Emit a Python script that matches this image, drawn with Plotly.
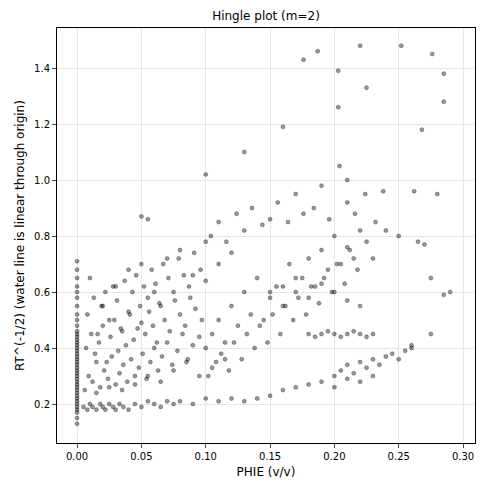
import plotly.graph_objects as go

# PHIE values (v/v)
phie = [
    0, 0, 0, 0, 0, 0, 0, 0, 0, 0, 0, 0, 0, 0, 0, 0, 0, 0, 0, 0, 0, 0, 0, 0, 0, 0, 0, 0, 0, 0,
    0, 0, 0, 0, 0, 0, 0, 0, 0, 0, 0, 0,
    0.005, 0.008, 0.01, 0.012, 0.015, 0.018, 0.02, 0.022, 0.025, 0.028, 0.03, 0.033, 0.036, 0.04,
    0.045, 0.05, 0.055, 0.06, 0.065, 0.07, 0.075, 0.08, 0.09, 0.1, 0.11, 0.12, 0.13,
    0.006, 0.009, 0.012, 0.015, 0.018, 0.021, 0.024, 0.027, 0.03, 0.033, 0.036, 0.039, 0.042, 0.045,
    0.048, 0.051, 0.054, 0.057, 0.06, 0.063, 0.066, 0.07, 0.074, 0.078, 0.082, 0.086, 0.09, 0.095,
    0.007, 0.011, 0.014, 0.017, 0.02, 0.023, 0.026, 0.029, 0.032, 0.035, 0.038, 0.041, 0.044, 0.047,
    0.05, 0.053, 0.056, 0.059, 0.062, 0.065, 0.068, 0.072, 0.076, 0.08, 0.084, 0.088, 0.092, 0.097,
    0.008, 0.013, 0.016, 0.019, 0.022, 0.025, 0.028, 0.031, 0.034, 0.037, 0.04, 0.043, 0.046, 0.049,
    0.052, 0.055, 0.058, 0.061, 0.064, 0.067, 0.071, 0.075, 0.079, 0.083, 0.087, 0.091, 0.096, 0.1,
    0.01, 0.02, 0.03, 0.04, 0.05, 0.06, 0.07, 0.08, 0.09, 0.1, 0.11, 0.12,
    0.015, 0.025, 0.035, 0.045, 0.055, 0.065, 0.075, 0.085, 0.095, 0.105, 0.115,
    0.1, 0.105, 0.11, 0.115, 0.12, 0.125, 0.13, 0.135, 0.14, 0.145, 0.15, 0.155, 0.16, 0.165, 0.17,
    0.175, 0.18, 0.185, 0.19, 0.195, 0.2, 0.205, 0.21, 0.215, 0.22,
    0.102, 0.108, 0.112, 0.118, 0.122, 0.128, 0.132, 0.138, 0.142, 0.148, 0.152, 0.158, 0.162, 0.168,
    0.172, 0.178, 0.182, 0.188, 0.192, 0.198, 0.202, 0.208, 0.212, 0.218, 0.225, 0.23,
    0.104, 0.11, 0.116, 0.124, 0.13, 0.136, 0.144, 0.15, 0.156, 0.164, 0.17, 0.176, 0.184, 0.19,
    0.196, 0.204, 0.21, 0.216, 0.224, 0.232, 0.24,
    0.18, 0.185, 0.19, 0.195, 0.2, 0.205, 0.21, 0.215, 0.22, 0.225, 0.23,
    0.2, 0.205, 0.21, 0.215, 0.22, 0.225, 0.23, 0.235, 0.24, 0.245, 0.25, 0.255, 0.26,
    0.14, 0.15, 0.16, 0.17, 0.18, 0.19, 0.2, 0.21, 0.22, 0.23,
    0.15, 0.16, 0.17, 0.18, 0.19, 0.2, 0.21, 0.22,
    0.176, 0.187, 0.22, 0.252, 0.276, 0.285, 0.285, 0.203, 0.203, 0.225, 0.268, 0.16, 0.13, 0.1,
    0.21, 0.238, 0.262, 0.28, 0.29, 0.285, 0.275, 0.275, 0.26, 0.25, 0.27, 0.265, 0.05, 0.055,
]

# RT^(-1/2) values
rt = [
    0.13, 0.15, 0.17, 0.19, 0.2, 0.22, 0.24, 0.25, 0.27, 0.28, 0.3, 0.31, 0.33, 0.35, 0.36, 0.38,
    0.4, 0.42, 0.44, 0.46, 0.48, 0.5, 0.52, 0.55, 0.58, 0.6, 0.62, 0.65, 0.68, 0.71,
    0.18, 0.21, 0.23, 0.26, 0.29, 0.32, 0.34, 0.37, 0.39, 0.41, 0.43, 0.45,
    0.19, 0.18, 0.2, 0.19, 0.18, 0.2, 0.19, 0.18, 0.2, 0.19, 0.18, 0.2, 0.19, 0.18,
    0.2, 0.19, 0.21, 0.2, 0.19, 0.21, 0.2, 0.21, 0.2, 0.22, 0.21, 0.22, 0.21,
    0.25, 0.3, 0.28, 0.35, 0.26, 0.32, 0.29, 0.37, 0.27, 0.31, 0.34, 0.28, 0.36, 0.3,
    0.33, 0.38, 0.29, 0.35, 0.4, 0.32, 0.37, 0.42, 0.34, 0.39, 0.45, 0.36, 0.41, 0.44,
    0.4, 0.45, 0.38, 0.42, 0.48, 0.35, 0.44, 0.5, 0.39, 0.46, 0.41, 0.52, 0.43, 0.47,
    0.49, 0.45, 0.53, 0.48, 0.42, 0.55, 0.5, 0.46, 0.57, 0.52, 0.48, 0.58, 0.54, 0.5,
    0.52, 0.58, 0.45, 0.55, 0.6, 0.5, 0.62, 0.57, 0.47, 0.64, 0.53, 0.6, 0.66, 0.55,
    0.62, 0.58, 0.68, 0.63, 0.56, 0.7, 0.65, 0.6, 0.72, 0.66, 0.62, 0.74, 0.68, 0.64,
    0.65, 0.55, 0.62, 0.68, 0.7, 0.6, 0.72, 0.75, 0.66, 0.78, 0.7, 0.74,
    0.24, 0.26, 0.25, 0.27, 0.3, 0.28, 0.32, 0.35, 0.3, 0.33, 0.36,
    0.4, 0.45, 0.5, 0.42, 0.55, 0.48, 0.6, 0.52, 0.65, 0.5, 0.58, 0.62, 0.55, 0.7, 0.6,
    0.65, 0.72, 0.62, 0.75, 0.68, 0.8, 0.7, 0.76, 0.72, 0.82,
    0.3, 0.35, 0.38, 0.32, 0.42, 0.36, 0.45, 0.4, 0.48, 0.42, 0.52, 0.45, 0.55, 0.5,
    0.58, 0.52, 0.62, 0.56, 0.65, 0.6, 0.7, 0.63, 0.75, 0.68, 0.78, 0.72,
    0.8, 0.85, 0.78, 0.88, 0.82, 0.9, 0.84, 0.86, 0.92, 0.85, 0.95, 0.88, 0.9, 0.98,
    0.86, 1.05, 0.92, 0.88, 0.95, 0.85, 0.82,
    0.45, 0.44, 0.45, 0.46, 0.45, 0.44, 0.45, 0.46, 0.45, 0.44, 0.45,
    0.3, 0.32, 0.34, 0.31, 0.35, 0.33, 0.36, 0.34, 0.37, 0.38, 0.36, 0.39, 0.4,
    0.22, 0.23, 0.25, 0.26, 0.27, 0.28, 0.26, 0.29, 0.28, 0.3,
    0.6, 0.62, 0.65, 0.58, 0.63, 0.6, 0.57, 0.55,
    1.43, 1.46, 1.48, 1.48, 1.45, 1.38, 1.28, 1.39, 1.26, 1.33, 1.18, 1.19, 1.1, 1.02,
    1.0, 0.96, 0.96, 0.95, 0.6, 0.59, 0.65, 0.45, 0.41, 0.8, 0.77, 0.78, 0.87, 0.86,
]

fig = go.Figure(go.Scatter(
    x=phie, y=rt, mode="markers",
    marker=dict(size=4, color="rgba(0,0,0,0.4)", line=dict(width=0.5, color="rgba(0,0,0,0.6)")),
))

# page body adds an 8px offset, so margins are shifted to compensate
axis = dict(showgrid=True, gridcolor="#e6e6e6", showline=True, mirror=True, linecolor="black",
            ticks="outside", ticklen=4, zeroline=False, tickfont=dict(size=10), automargin=False)
fig.update_layout(
    width=488, height=492, plot_bgcolor="white", paper_bgcolor="white",
    font=dict(family="DejaVu Sans", color="black", size=10),
    title=dict(text="Hingle plot (m=2)", x=(49 + 467) / 2 / 488, xanchor="center",
               y=1 - 4 / 492, yanchor="top", font=dict(size=12)),
    margin=dict(l=49, r=21, t=20, b=57, autoexpand=False), showlegend=False,
)
fig.update_xaxes(axis, title=dict(text="PHIE (v/v)", standoff=6), range=[-0.0156, 0.3093],
                 tickvals=[0, 0.05, 0.1, 0.15, 0.2, 0.25, 0.3], tickformat=".2f")
fig.update_yaxes(axis, title=dict(text="RT^(-1/2) (water line is linear through origin)", standoff=6),
                 range=[0.061, 1.543],
                 tickvals=[0.2, 0.4, 0.6, 0.8, 1.0, 1.2, 1.4], tickformat=".1f")
fig.write_html("out.html")
